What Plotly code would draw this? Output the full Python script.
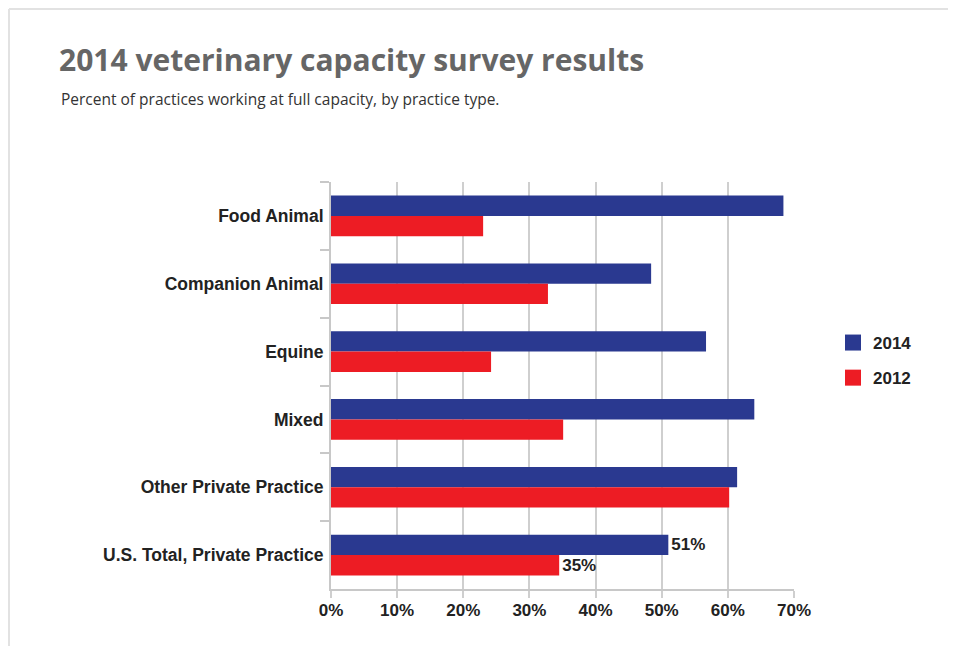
import plotly.graph_objects as go

categories = ["Food Animal", "Companion Animal", "Equine", "Mixed",
              "Other Private Practice", "U.S. Total, Private Practice"]
values_2014 = [68.4, 48.4, 56.7, 64.0, 61.4, 51.0]
values_2012 = [23.0, 32.8, 24.2, 35.1, 60.2, 34.5]
labels_2014 = ["", "", "", "", "", "51%"]
labels_2012 = ["", "", "", "", "", "35%"]
tick_vals = [0, 10, 20, 30, 40, 50, 60, 70]
tick_text = ["0%", "10%", "20%", "30%", "40%", "50%", "60%", "70%"]

BLUE = "#2a3990"
RED = "#ed1c24"
FONT = "Liberation Sans, Arial, sans-serif"
TFONT = "Open Sans, sans-serif"

OFF = 8  # page body margin
W, H = 956 - OFF, 646 - OFF
L, T = 331 - OFF, 182 - OFF
R = W - (794 - OFF)
B = H - (589 - OFF)
pw, ph = W - L - R, H - T - B


def px(sx):
    return (sx - OFF - L) / pw


def py(sy):
    return (H - B - (sy - OFF)) / ph


fig = go.Figure()
fig.add_trace(go.Bar(y=categories, x=values_2014, orientation="h", name="2014",
                     marker=dict(color=BLUE, line=dict(width=0)),
                     text=labels_2014, textposition="outside", cliponaxis=False,
                     textfont=dict(family=FONT, size=17, color="#222", weight="bold"),
                     showlegend=False, hoverinfo="x+y"))
fig.add_trace(go.Bar(y=categories, x=values_2012, orientation="h", name="2012",
                     marker=dict(color=RED, line=dict(width=0)),
                     text=labels_2012, textposition="outside", cliponaxis=False,
                     textfont=dict(family=FONT, size=17, color="#222", weight="bold"),
                     showlegend=False, hoverinfo="x+y"))
# legend entries
fig.add_trace(go.Scatter(x=[None], y=[None], mode="markers", name="2014",
                         legendgroup="a",
                         marker=dict(symbol="square", size=19, color=BLUE)))
fig.add_trace(go.Scatter(x=[None], y=[None], mode="markers", name="2012",
                         legendgroup="b",
                         marker=dict(symbol="square", size=19, color=RED)))

fig.update_layout(
    width=W, height=H,
    margin=dict(l=L, r=R, t=T, b=B, pad=0),
    paper_bgcolor="white", plot_bgcolor="white",
    barmode="group", bargap=0.4, bargroupgap=0,
    font=dict(family=FONT, size=17, color="#222"),
    showlegend=True,
    legend=dict(x=px(833), y=py(325), xanchor="left", yanchor="top",
                font=dict(family=FONT, size=17, color="#222", weight="bold"),
                itemsizing="trace", traceorder="grouped", tracegroupgap=10,
                bgcolor="rgba(0,0,0,0)"),
    xaxis=dict(range=[0, 70], tickvals=tick_vals, ticktext=tick_text,
               showgrid=True, gridcolor="#cfcfcf", gridwidth=2,
               zeroline=False, showline=True, linecolor="#c8c8c8", linewidth=2,
               ticks="outside", ticklen=7, tickcolor="#cfcfcf", tickwidth=2,
               tickfont=dict(family=FONT, size=17, color="#222", weight="bold"),
               ticklabelstandoff=-2, fixedrange=True),
    yaxis=dict(categoryorder="array", categoryarray=categories, autorange="reversed",
               showline=True, linecolor="#c8c8c8", linewidth=2,
               ticks="outside", tickson="boundaries", ticklen=9,
               tickcolor="#c8c8c8", tickwidth=2, showgrid=False,
               tickfont=dict(family=FONT, size=17.5, color="#222", weight="bold"),
               ticklabelstandoff=2, fixedrange=True),
    annotations=[
        dict(text="2014 veterinary capacity survey results", xref="paper", yref="paper",
             x=px(57), y=py(37), xanchor="left", yanchor="top", showarrow=False,
             font=dict(family=TFONT, size=30, color="#666666", weight="bold")),
        dict(text="Percent of practices working at full capacity, by practice type.",
             xref="paper", yref="paper", x=px(59), y=py(86), xanchor="left",
             yanchor="top", showarrow=False,
             font=dict(family=TFONT, size=15.5, color="#333333")),
    ],
    shapes=[
        dict(type="line", xref="paper", yref="paper", x0=px(9), x1=px(956),
             y0=py(9), y1=py(9), line=dict(color="#e2e2e2", width=2)),
        dict(type="line", xref="paper", yref="paper", x0=px(9), x1=px(9),
             y0=py(9), y1=py(646), line=dict(color="#e2e2e2", width=2)),
    ],
)

fig.write_html("out.html")
